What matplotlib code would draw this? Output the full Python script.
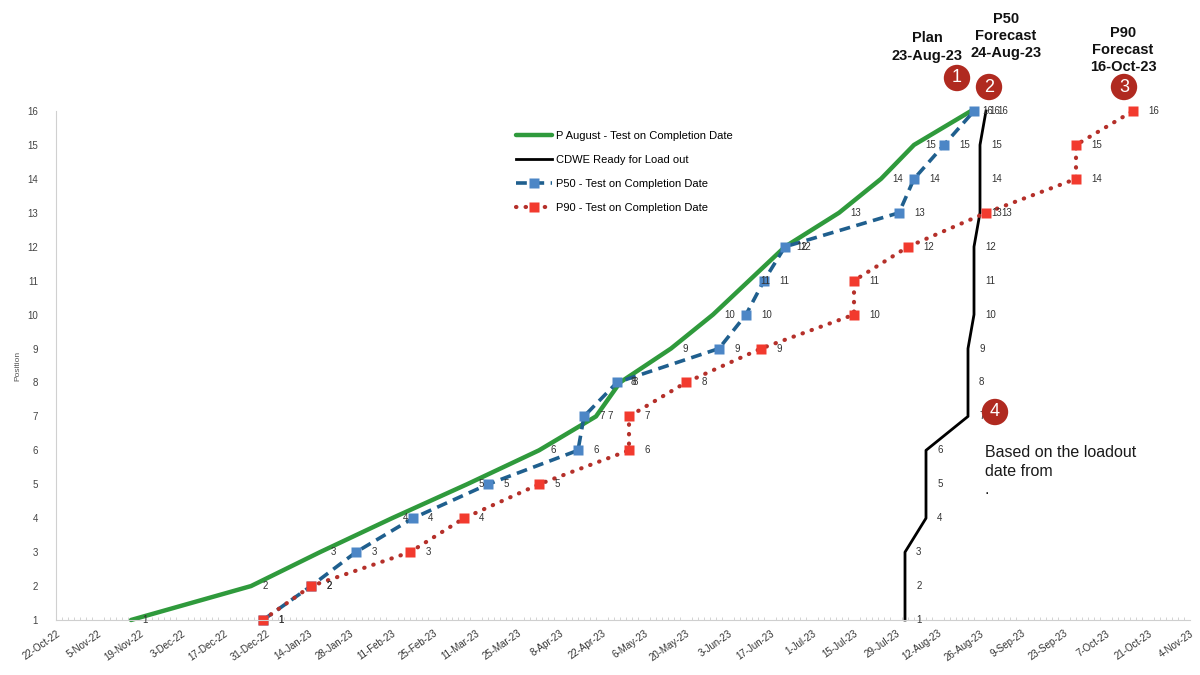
import pandas as pd
import matplotlib
matplotlib.use("Agg")
import matplotlib.pyplot as plt
import matplotlib.dates as mdates

plt.rcParams['font.family'] = ['Liberation Sans', 'DejaVu Sans']

positions = list(range(1, 17))

# completion dates per position for each series
plan_dates = ['2022-11-16', '2022-12-26', '2023-01-18', '2023-02-11', '2023-03-08', '2023-04-01',
              '2023-04-20', '2023-04-28', '2023-05-15', '2023-05-29', '2023-06-10', '2023-06-22',
              '2023-07-10', '2023-07-24', '2023-08-04', '2023-08-23']
cdwe_dates = ['2023-08-01', '2023-08-01', '2023-08-01', '2023-08-08', '2023-08-08', '2023-08-08',
              '2023-08-22', '2023-08-22', '2023-08-22', '2023-08-24', '2023-08-24', '2023-08-24',
              '2023-08-26', '2023-08-26', '2023-08-26', '2023-08-28']
p50_dates = ['2022-12-30', '2023-01-15', '2023-01-30', '2023-02-18', '2023-03-15', '2023-04-14',
             '2023-04-16', '2023-04-27', '2023-05-31', '2023-06-09', '2023-06-15', '2023-06-22',
             '2023-07-30', '2023-08-04', '2023-08-14', '2023-08-24']
p90_dates = ['2022-12-30', '2023-01-15', '2023-02-17', '2023-03-07', '2023-04-01', '2023-05-01',
             '2023-05-01', '2023-05-20', '2023-06-14', '2023-07-15', '2023-07-15', '2023-08-02',
             '2023-08-28', '2023-09-27', '2023-09-27', '2023-10-16']

series_names = ['P August - Test on Completion Date', 'CDWE Ready for Load out',
                'P50 - Test on Completion Date', 'P90 - Test on Completion Date']

tick_dates = pd.date_range('2022-10-22', '2023-11-04', freq='14D')

callouts = [('Plan\n23-Aug-23', 927, 47), ('P50\nForecast\n24-Aug-23', 1006, 36),
            ('P90\nForecast\n16-Oct-23', 1123, 50)]
markers_num = [('1', 957, 78), ('2', 989, 87), ('3', 1124, 87), ('4', 995, 412)]

W, H = 1200, 675
fig = plt.figure(figsize=(12, 6.75), dpi=100)
ax = fig.add_axes([56 / W, 1 - 620 / H, (1190 - 56) / W, (620 - 111) / H])

plan = pd.to_datetime(plan_dates)
cdwe = pd.to_datetime(cdwe_dates)
p50 = pd.to_datetime(p50_dates)
p90 = pd.to_datetime(p90_dates)

ax.plot(plan, positions, color='#2f9a3c', lw=3.2, solid_capstyle='round', label=series_names[0],
        clip_on=False)
ax.plot(cdwe, positions, color='black', lw=2.0, label=series_names[1], clip_on=False)
ax.plot(p50, positions, color='#1f5f8e', lw=2.6, linestyle=(0, (3, 1.8)),
        marker='s', markersize=7, markerfacecolor='#4c86c6', markeredgecolor='none',
        label=series_names[2], clip_on=False)
ax.plot(p90, positions, color='#b5302a', lw=3.0, linestyle=(0, (0.1, 2.2)),
        dash_capstyle='round', marker='s', markersize=7.5, markerfacecolor='#f23a2e',
        markeredgecolor='none', label=series_names[3], clip_on=False)

# value labels next to every point
for dates, off in [(plan, 8), (cdwe, 8), (p50, 11), (p90, 11)]:
    for d, v in zip(dates, positions):
        ax.annotate(str(v), (d, v), xytext=(off, 0), textcoords='offset points',
                    va='center', ha='left', fontsize=7, color='#333333')

ax.set_xlim(pd.Timestamp('2022-10-22'), pd.Timestamp('2023-11-04'))
ax.set_ylim(1, 16)
ax.set_yticks(positions)
ax.set_xticks(tick_dates)
ax.set_xticklabels([f"{d.day}-{d.strftime('%b-%y')}" for d in tick_dates],
                   rotation=35, ha='right', rotation_mode='anchor', fontsize=7, color='#333333')
ax.tick_params(axis='x', length=0, pad=6)
ax.tick_params(axis='y', length=0, pad=13, labelsize=7, labelcolor='#444444')
ax.xaxis.set_minor_locator(mdates.DayLocator(interval=2))
ax.tick_params(axis='x', which='minor', length=2, color='#cccccc', direction='in')

for s in ['top', 'right']:
    ax.spines[s].set_visible(False)
ax.spines['left'].set_color('#d0d0d0')
ax.spines['bottom'].set_color('#cfcfcf')
ax.spines['bottom'].set_linestyle((0, (2, 1)))
ax.set_ylabel('Position', fontsize=6, color='#555555', labelpad=4)

ax.legend(loc='upper left', bbox_to_anchor=(506 / W, 1 - 121 / H), bbox_transform=fig.transFigure,
          frameon=False, handlelength=3.2, labelspacing=1.25, handletextpad=0.4,
          prop={'family': 'Liberation Sans', 'size': 8})

for txt, x, y in callouts:
    fig.text(x / W, 1 - y / H, txt, ha='center', va='center', fontsize=10.5, fontweight='bold',
             linespacing=1.3, color='#111111')

for txt, x, y in markers_num:
    fig.text(x / W, 1 - y / H, txt, ha='center', va='center', fontsize=13, color='white',
             bbox=dict(boxstyle='circle,pad=0.26', fc='#b02a20', ec='none'))

fig.text(985 / W, 1 - 445 / H, 'Based on the loadout\ndate from\n.', ha='left', va='top',
         fontsize=11.5, color='#1a1a1a', linespacing=1.3)

fig.savefig('out.png', dpi=100)
